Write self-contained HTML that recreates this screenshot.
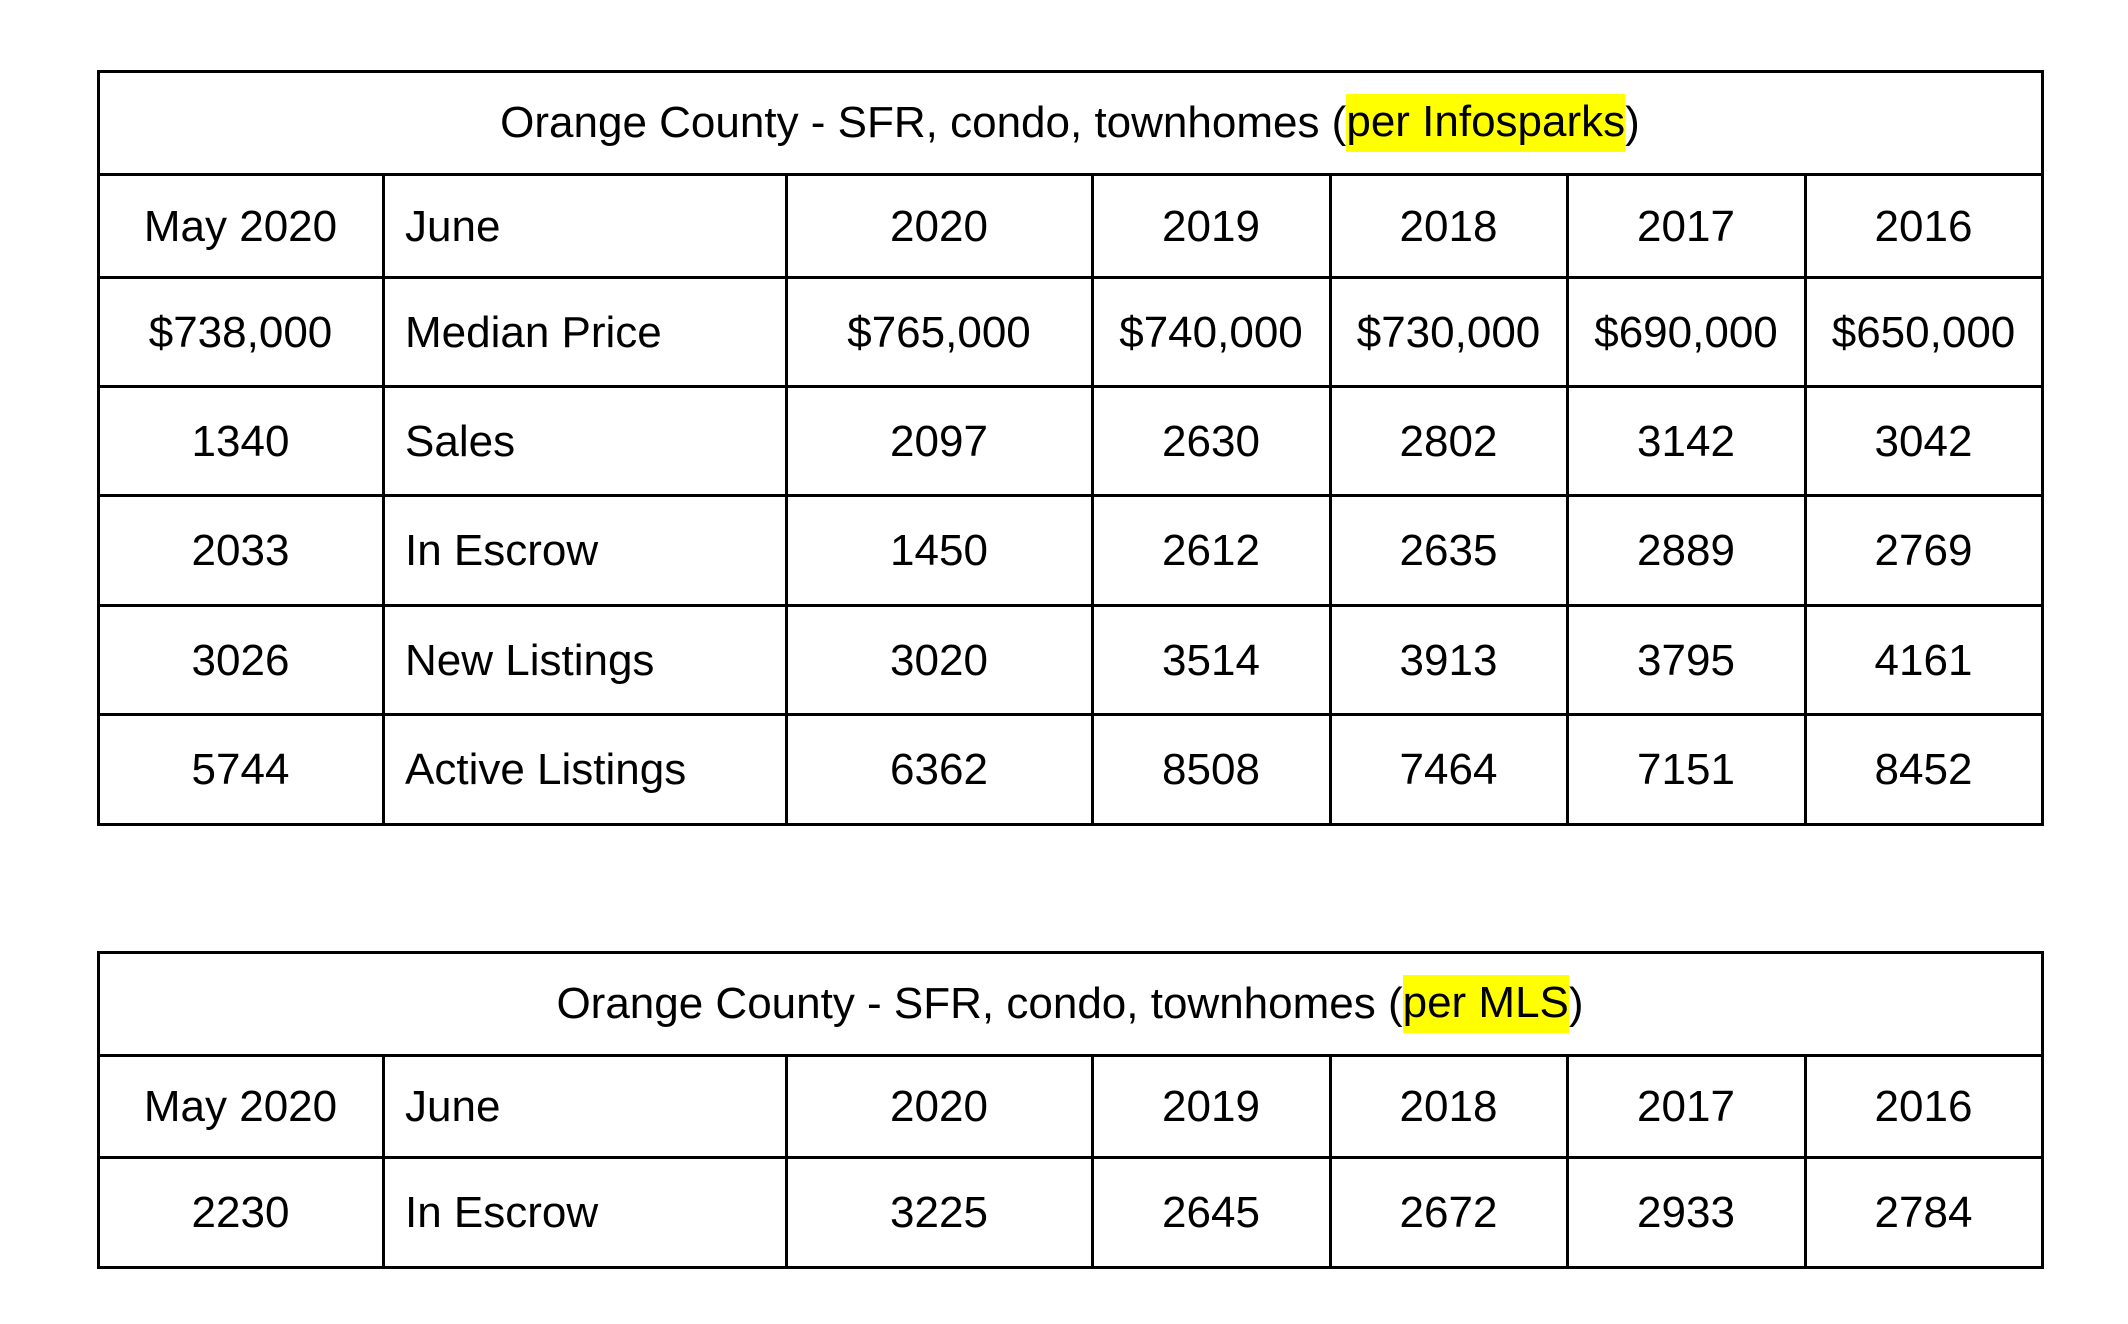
<!DOCTYPE html>
<html><head><meta charset="utf-8">
<style>
html,body{margin:0;padding:0;background:#fff;}
body{width:2128px;height:1324px;position:relative;overflow:hidden;font-family:"Liberation Sans",Arial,sans-serif;color:#000;}
.ln{position:absolute;background:#000;}
.cell{position:absolute;font-size:44px;line-height:1;display:flex;align-items:center;white-space:nowrap;}
.c{justify-content:center;}
.l{justify-content:flex-start;padding-left:22px;box-sizing:border-box;}
.hl{background:#ffff00;padding:6px 0 8px;}
</style></head>
<body>
<script>
var colX=[98,383,786,1092,1330,1567,1805,2042];
var t1Y=[71,174,277,386,495,605,714,824];
var t2Y=[952,1055,1157,1267];
var yearLabels=["2020","2019","2018","2017","2016"];
var t1Rows=[
 ["May 2020","June"].concat(yearLabels),
 ["$738,000","Median Price","$765,000","$740,000","$730,000","$690,000","$650,000"],
 ["1340","Sales","2097","2630","2802","3142","3042"],
 ["2033","In Escrow","1450","2612","2635","2889","2769"],
 ["3026","New Listings","3020","3514","3913","3795","4161"],
 ["5744","Active Listings","6362","8508","7464","7151","8452"]
];
var t2Rows=[
 ["May 2020","June"].concat(yearLabels),
 ["2230","In Escrow","3225","2645","2672","2933","2784"]
];
var titles=[["Orange County - SFR, condo, townhomes (","per Infosparks",")"],["Orange County - SFR, condo, townhomes (","per MLS",")"]];

function line(x,y,w,h,name){
  var d=document.createElement('div');
  d.className='ln';
  d.style.left=x+'px';d.style.top=y+'px';d.style.width=w+'px';d.style.height=h+'px';
  
  
  document.body.appendChild(d);
}
function drawTable(ys,rows,title,ti){
  var L=colX[0],R=colX[colX.length-1];
  var wrap=document.createElement('div');
  
  
  document.body.appendChild(wrap);
  for(var i=0;i<ys.length;i++) line(L-1,ys[i]-1,R-L+3,3,'table-row-line');
  line(L-1,ys[0]-1,3,ys[ys.length-1]-ys[0]+3,'table-left-border');
  line(R-1,ys[0]-1,3,ys[ys.length-1]-ys[0]+3,'table-right-border');
  for(var c=1;c<colX.length-1;c++) line(colX[c]-1,ys[1]-1,3,ys[ys.length-1]-ys[1]+3,'table-column-line');
  var t=document.createElement('div');
  t.className='cell c';
  t.style.left=L+'px';t.style.top=ys[0]+'px';t.style.width=(R-L)+'px';t.style.height=(ys[1]-ys[0])+'px';
  
  
  var s1=document.createElement('span');s1.textContent=title[0];
  var s2=document.createElement('span');s2.className='hl';s2.textContent=title[1];
  
  
  var s3=document.createElement('span');s3.textContent=title[2];
  t.appendChild(s1);t.appendChild(s2);t.appendChild(s3);
  wrap.appendChild(t);
  for(var r=0;r<rows.length;r++){
    for(var c=0;c<rows[r].length;c++){
      var d=document.createElement('div');
      d.className='cell '+(c==1?'l':'c');
      d.style.left=colX[c]+'px';d.style.top=(ys[r+1]+1)+'px';
      d.style.width=(colX[c+1]-colX[c])+'px';d.style.height=(ys[r+2]-ys[r+1])+'px';
      d.textContent=rows[r][c];
      
      
      wrap.appendChild(d);
    }
  }
}
drawTable(t1Y,t1Rows,titles[0],0);
drawTable(t2Y,t2Rows,titles[1],1);
</script>
</body></html>
